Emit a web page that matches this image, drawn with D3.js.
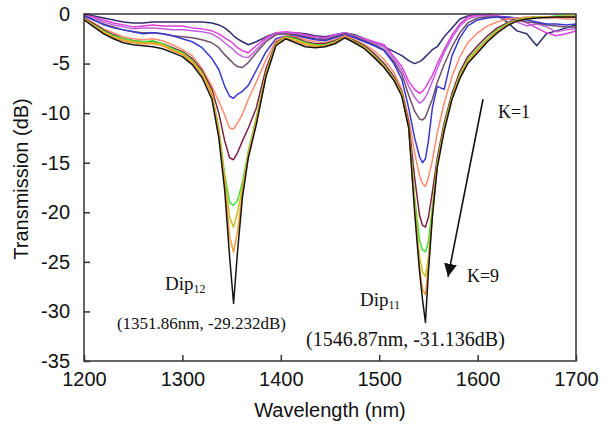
<!DOCTYPE html>
<html>
<head>
<meta charset="utf-8">
<script src="https://cdn.jsdelivr.net/npm/d3@7"></script>
<style>
body { margin: 0; background: #fff; }
svg { display: block; }
</style>
</head>
<body>
<div id="chart"></div>
<script>
// wavelength grid (nm), shared by every trace
var wavelength = [1200,1210,1220,1230,1240,1250,1260,1270,1280,1290,
  1300,1310,1320,1330,1337,1343,1348,1352,1356,1361,1367,1375,1385,1395,1405,
  1415,1425,1435,1445,1455,1465,1475,1485,1495,1505,1515,
  1523,1530,1536,1541,1544,1547,1550,1554,1559,1566,1574,1582,
  1590,1600,1610,1620,1630,1640,1650,1660,1670,1680,1690,1700];

// transmission (dB)
var traceK1 = [0.0,-0.2,-0.4,-0.6,-0.8,-0.9,-0.9,-0.8,-0.8,-0.8,
  -0.8,-0.8,-0.8,-0.9,-1.1,-1.4,-1.8,-2.2,-2.5,-2.8,-3.1,-2.8,-2.3,-1.9,-1.9,
  -1.9,-2.0,-2.2,-2.3,-2.1,-1.9,-2.1,-2.5,-2.9,-3.3,-3.8,
  -4.2,-4.7,-5.0,-4.8,-4.6,-4.3,-4.0,-3.6,-3.3,-2.3,-1.4,-0.5,
  -0.2,-0.1,-0.1,-0.2,-0.8,-1.7,-2.0,-3.2,-2.0,-1.7,-1.4,-1.1];
var traceK2 = [-0.1,-0.3,-0.6,-0.9,-1.1,-1.3,-1.2,-1.1,-1.2,-1.2,
  -1.2,-1.4,-1.5,-1.7,-2.0,-2.4,-2.7,-3.0,-3.4,-3.7,-3.9,-3.2,-2.4,-1.9,-1.8,
  -1.9,-2.1,-2.3,-2.4,-2.1,-1.9,-2.2,-2.5,-2.8,-3.1,-4.3,
  -5.3,-6.8,-7.6,-8.0,-7.8,-7.4,-6.9,-6.2,-5.0,-3.6,-2.1,-1.0,
  -0.3,-0.1,-0.1,-0.2,-0.3,-0.5,-0.9,-1.4,-1.9,-2.2,-2.0,-1.7];
var traceK3 = [-0.1,-0.4,-0.8,-1.1,-1.3,-1.5,-1.4,-1.4,-1.5,-1.6,
  -1.6,-1.7,-1.8,-2.0,-2.4,-2.9,-3.3,-3.6,-4.0,-4.3,-4.4,-3.6,-2.6,-2.0,-1.9,
  -2.0,-2.2,-2.4,-2.5,-2.2,-1.9,-2.2,-2.6,-2.9,-3.3,-4.5,
  -5.7,-7.3,-8.4,-9.0,-8.8,-8.4,-7.8,-6.8,-5.5,-3.9,-2.4,-1.2,
  -0.5,-0.2,-0.2,-0.3,-0.5,-0.8,-1.2,-1.0,-1.3,-1.8,-1.6,-1.5];
var traceK4 = [-0.2,-0.6,-1.0,-1.3,-1.6,-1.8,-1.9,-1.9,-2.0,-2.2,
  -2.3,-2.4,-2.6,-2.9,-3.4,-4.1,-4.6,-5.0,-5.3,-5.4,-4.9,-3.9,-2.8,-2.1,-2.0,
  -2.1,-2.3,-2.5,-2.6,-2.3,-2.0,-2.3,-2.7,-3.1,-3.6,-4.8,
  -6.1,-8.2,-9.8,-10.6,-10.7,-10.4,-9.6,-8.6,-6.9,-5.1,-3.3,-1.9,
  -0.9,-0.4,-0.3,-0.3,-0.4,-0.6,-0.8,-0.9,-1.1,-1.2,-1.3,-1.3];
var traceK5 = [-0.2,-0.6,-1.1,-1.4,-1.6,-1.8,-2.0,-1.9,-2.0,-2.2,
  -2.5,-2.8,-3.4,-4.5,-5.6,-7.3,-8.3,-8.5,-8.1,-7.8,-7.2,-5.7,-3.8,-2.5,-2.2,
  -2.2,-2.4,-2.6,-2.7,-2.4,-2.1,-2.4,-2.8,-3.2,-3.7,-5.0,
  -6.6,-9.5,-12.5,-14.4,-15.0,-14.6,-12.8,-9.5,-7.3,-7.6,-4.2,-2.4,
  -1.2,-0.6,-0.4,-0.3,-0.3,-0.4,-0.6,-0.8,-1.0,-1.0,-1.1,-1.0];
var traceK6 = [-0.4,-0.9,-1.5,-1.9,-2.3,-2.5,-2.6,-2.5,-2.7,-3.1,
  -3.6,-4.2,-5.5,-7.3,-8.8,-10.2,-11.5,-11.6,-11.0,-10.1,-8.6,-6.9,-4.6,-2.7,-2.2,
  -2.3,-2.6,-2.8,-2.9,-2.6,-2.2,-2.6,-3.1,-3.7,-4.6,-5.9,
  -7.6,-10.5,-14.0,-16.3,-17.1,-17.4,-16.5,-14.8,-12.0,-9.0,-6.3,-4.3,
  -2.9,-1.9,-1.2,-0.8,-0.5,-0.4,-0.3,-0.3,-0.4,-0.4,-0.5,-0.5];
var traceK7 = [-0.4,-1.0,-1.6,-2.1,-2.5,-2.7,-2.8,-2.8,-3.0,-3.4,
  -3.8,-4.5,-5.7,-7.6,-10.0,-12.8,-14.5,-14.7,-14.0,-12.8,-11.5,-9.5,-5.5,-2.9,-2.3,
  -2.4,-2.8,-3.0,-3.0,-2.7,-2.3,-2.7,-3.2,-4.0,-5.0,-6.3,
  -7.9,-11.0,-16.5,-20.3,-21.3,-21.5,-20.5,-18.0,-14.5,-11.0,-8.0,-5.8,
  -4.3,-3.2,-2.2,-1.4,-0.9,-0.6,-0.4,-0.3,-0.3,-0.3,-0.3,-0.3];
var traceK8 = [-0.5,-1.1,-1.7,-2.2,-2.5,-2.7,-2.8,-2.7,-3.0,-3.5,
  -3.9,-4.7,-5.9,-8.0,-11.5,-16.2,-19.0,-19.3,-18.8,-17.0,-13.8,-10.5,-6.0,-3.0,-2.3,
  -2.5,-2.9,-3.1,-3.1,-2.8,-2.3,-2.8,-3.3,-4.2,-5.2,-6.5,
  -8.0,-11.3,-18.5,-22.8,-23.8,-24.0,-23.0,-19.5,-15.0,-11.3,-8.3,-6.1,
  -4.6,-3.5,-2.5,-1.6,-1.0,-0.6,-0.4,-0.3,-0.3,-0.2,-0.2,-0.2];
var traceK9 = [-0.5,-1.2,-1.8,-2.3,-2.6,-2.8,-2.9,-2.9,-3.1,-3.6,
  -4.0,-4.8,-6.0,-8.0,-11.8,-16.5,-20.5,-21.5,-20.0,-17.5,-14.0,-10.6,-6.0,-3.0,-2.4,
  -2.6,-3.0,-3.2,-3.2,-2.9,-2.3,-2.8,-3.4,-4.3,-5.3,-6.6,
  -8.1,-11.4,-19.0,-24.5,-26.0,-26.5,-24.5,-20.0,-15.2,-11.5,-8.4,-6.2,
  -4.7,-3.6,-2.6,-1.7,-1.1,-0.6,-0.4,-0.3,-0.3,-0.3,-0.2,-0.2];
var traceK10 = [-0.5,-1.2,-1.9,-2.4,-2.7,-2.9,-3.0,-3.0,-3.2,-3.7,
  -4.1,-4.9,-6.1,-8.2,-12.0,-17.0,-22.5,-24.0,-22.0,-18.0,-14.2,-10.9,-6.2,-3.1,-2.4,
  -2.7,-3.1,-3.3,-3.2,-2.9,-2.3,-2.9,-3.4,-4.3,-5.3,-6.6,
  -8.2,-11.4,-19.5,-25.5,-27.8,-28.3,-25.5,-20.3,-15.3,-11.6,-8.5,-6.4,
  -4.9,-3.8,-2.7,-1.8,-1.1,-0.7,-0.5,-0.4,-0.3,-0.3,-0.3,-0.3];
var traceK11 = [-0.6,-1.3,-2.0,-2.5,-2.9,-3.1,-3.2,-3.3,-3.5,-3.9,
  -4.3,-5.1,-6.4,-8.6,-12.5,-17.8,-24.5,-29.2,-24.0,-18.5,-14.5,-11.2,-6.3,-3.2,-2.5,
  -2.9,-3.3,-3.4,-3.3,-3.0,-2.4,-2.9,-3.5,-4.4,-5.4,-6.7,
  -8.3,-11.5,-20.0,-26.0,-28.8,-31.1,-26.0,-20.5,-15.5,-11.8,-8.6,-6.5,
  -5.0,-3.9,-2.8,-1.9,-1.2,-0.7,-0.5,-0.4,-0.35,-0.3,-0.3,-0.3];

var traces = [traceK1, traceK2, traceK3, traceK4, traceK5, traceK6,
              traceK7, traceK8, traceK9, traceK10, traceK11];
var traceColors = ["#2e2e6e", "#e040d8", "#c060e0", "#705068", "#3838d0", "#ff8c6e",
                   "#802040", "#40e040", "#c8c020", "#ff9a30", "#151515"];

var xTicks = [1200, 1300, 1400, 1500, 1600, 1700];
var yTicks = [0, -5, -10, -15, -20, -25, -30, -35];

var width = 605, height = 431;
var plot = {left: 84, right: 576, top: 14, bottom: 361};

var x = d3.scaleLinear().domain([1200, 1700]).range([plot.left, plot.right]);
var y = d3.scaleLinear().domain([-35, 0]).range([plot.bottom, plot.top]);

var svg = d3.select("#chart").append("svg")
  .attr("width", width)
  .attr("height", height);

svg.append("defs").append("clipPath").attr("id", "plotClip")
  .append("rect")
  .attr("x", plot.left).attr("y", plot.top)
  .attr("width", plot.right - plot.left).attr("height", plot.bottom - plot.top);

// traces
var line = d3.line()
  .x(function(d, i) { return x(wavelength[i]); })
  .y(function(d) { return y(d); });

svg.append("g").attr("clip-path", "url(#plotClip)")
  .selectAll("path")
  .data(traces)
  .enter().append("path")
  .attr("d", line)
  .attr("fill", "none")
  .attr("stroke", function(d, i) { return traceColors[i]; })
  .attr("stroke-width", 1.5)
  .attr("stroke-linejoin", "round");

// frame
svg.append("rect")
  .attr("x", plot.left).attr("y", plot.top)
  .attr("width", plot.right - plot.left).attr("height", plot.bottom - plot.top)
  .attr("fill", "none")
  .attr("stroke", "#333")
  .attr("stroke-width", 1.5);

var axisFont = "Arial, 'Liberation Sans', sans-serif";

var xAxis = svg.append("g")
  .attr("transform", "translate(0," + plot.bottom + ")")
  .call(d3.axisBottom(x).tickValues(xTicks).tickSizeInner(-6).tickSizeOuter(0)
    .tickPadding(11).tickFormat(function(d) { return String(d); }));
var yAxis = svg.append("g")
  .attr("transform", "translate(" + plot.left + ",0)")
  .call(d3.axisLeft(y).tickValues(yTicks).tickSizeInner(-6).tickSizeOuter(0)
    .tickPadding(14).tickFormat(function(d) { return String(d); }));

[xAxis, yAxis].forEach(function(a) {
  a.select(".domain").remove();
  a.selectAll(".tick line").attr("stroke", "#333").attr("stroke-width", 1.5);
  a.selectAll(".tick text")
    .attr("fill", "#111")
    .style("font-family", axisFont)
    .style("font-size", "20px");
});

// axis titles
svg.append("text")
  .attr("x", (plot.left + plot.right) / 2)
  .attr("y", 417)
  .attr("text-anchor", "middle")
  .style("font-family", axisFont)
  .style("font-size", "20px")
  .attr("fill", "#111")
  .text("Wavelength (nm)");

svg.append("text")
  .attr("transform", "translate(28,179) rotate(-90)")
  .attr("text-anchor", "middle")
  .style("font-family", axisFont)
  .style("font-size", "20px")
  .attr("fill", "#111")
  .text("Transmission (dB)");

// annotations
var serif = "'Times New Roman', 'Liberation Serif', serif";

function dipLabel(wl, db, sub) {
  var t = svg.append("text")
    .attr("x", x(wl)).attr("y", y(db))
    .style("font-family", serif)
    .style("font-size", "19px")
    .attr("fill", "#111");
  t.append("tspan").text("Dip");
  t.append("tspan").attr("dy", 3).style("font-size", "12px").text(sub);
}
function note(wl, db, size, str) {
  svg.append("text")
    .attr("x", x(wl)).attr("y", y(db))
    .style("font-family", serif)
    .style("font-size", size + "px")
    .attr("fill", "#111")
    .text(str);
}

dipLabel(1282.3, -27.8, "12");
note(1233.5, -31.8, 17, "(1351.86nm, -29.232dB)");
dipLabel(1480.5, -29.45, "11");
note(1425.6, -33.5, 20, "(1546.87nm, -31.136dB)");
note(1620.7, -10.5, 18, "K=1");
note(1589.2, -27.0, 18, "K=9");

// arrow K=1 -> K=9
svg.select("defs").append("marker")
  .attr("id", "arrowHead")
  .attr("viewBox", "0 0 10 10")
  .attr("refX", 10).attr("refY", 5)
  .attr("markerWidth", 13).attr("markerHeight", 13)
  .attr("markerUnits", "userSpaceOnUse")
  .attr("orient", "auto")
  .append("path")
  .attr("d", "M0,0 L10,5 L0,10 Z")
  .attr("fill", "#111");

svg.append("line")
  .attr("x1", x(1605.5)).attr("y1", y(-8.6))
  .attr("x2", x(1569.9)).attr("y2", y(-26.5))
  .attr("stroke", "#111")
  .attr("stroke-width", 1.6)
  .attr("marker-end", "url(#arrowHead)");
</script>
</body>
</html>
